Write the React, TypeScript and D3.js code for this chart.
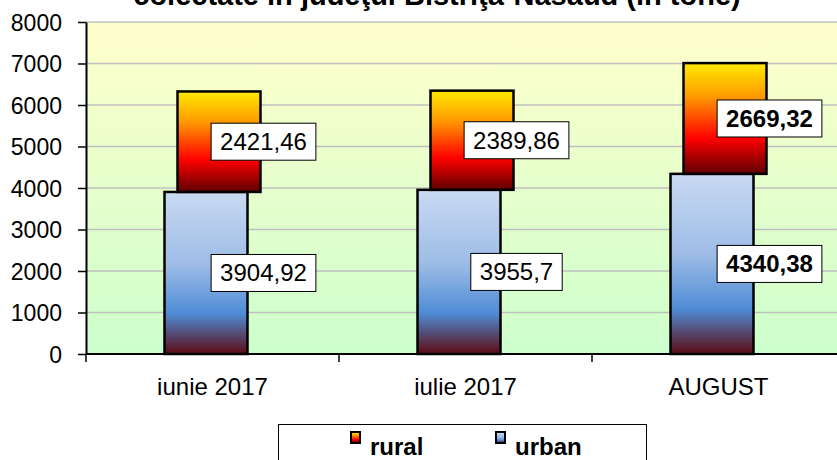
import React, { useEffect, useRef } from 'react';
import * as d3 from 'd3';

const title = 'colectate în judeţul Bistriţa-Năsăud (în tone)';
const categories = ['iunie 2017', 'iulie 2017', 'AUGUST'];
const urban = [3904.92, 3955.7, 4340.38];
const rural = [2421.46, 2389.86, 2669.32];
const urbanLabels = ['3904,92', '3955,7', '4340,38'];
const ruralLabels = ['2421,46', '2389,86', '2669,32'];
const boldLabel = [false, false, true];
const yTicks = [0, 1000, 2000, 3000, 4000, 5000, 6000, 7000, 8000];

const FONT = "'Liberation Sans', Arial, sans-serif";

export default function App() {
  const ref = useRef<HTMLDivElement>(null);

  useEffect(() => {
    const root = d3.select(ref.current);
    root.select('svg').remove();

    const width = 837;
    const height = 460;
    const marginLeft = 86;
    const marginTop = 22;
    const plotBottom = 354;
    const plotRight = 845;

    const svg = root
      .append('svg')
      .attr('width', width)
      .attr('height', height)
      .style('display', 'block')
      .style('font-family', FONT);

    const defs = svg.append('defs');
    const bg = defs.append('linearGradient').attr('id', 'bg').attr('x1', 0).attr('y1', 0).attr('x2', 0).attr('y2', 1);
    bg.append('stop').attr('offset', 0).attr('stop-color', '#FFFFCC');
    bg.append('stop').attr('offset', 1).attr('stop-color', '#CCFFCC');

    const gr = defs.append('linearGradient').attr('id', 'gRural').attr('x1', 0).attr('y1', 0).attr('x2', 0).attr('y2', 1);
    [
      [0, '#FFEA00'],
      [0.3, '#FF9A00'],
      [0.68, '#FF0000'],
      [1, '#5E0000'],
    ].forEach(([o, c]) => gr.append('stop').attr('offset', o).attr('stop-color', c));

    const gu = defs.append('linearGradient').attr('id', 'gUrban').attr('x1', 0).attr('y1', 0).attr('x2', 0).attr('y2', 1);
    [
      [0, '#C9DAF2'],
      [0.45, '#9DBCE6'],
      [0.75, '#4F8CD6'],
      [1, '#5C0A12'],
    ].forEach(([o, c]) => gu.append('stop').attr('offset', o).attr('stop-color', c));

    const x = d3.scaleBand().domain(categories).range([marginLeft, plotRight]).padding(0);
    const y = d3.scaleLinear().domain([0, 8000]).range([plotBottom, marginTop]);

    // plot background
    svg
      .append('rect')
      .attr('x', marginLeft)
      .attr('y', marginTop)
      .attr('width', plotRight - marginLeft)
      .attr('height', plotBottom - marginTop)
      .attr('fill', 'url(#bg)');

    // gridlines
    svg
      .append('g')
      .selectAll('line')
      .data(yTicks.slice(1))
      .join('line')
      .attr('x1', marginLeft)
      .attr('x2', plotRight)
      .attr('y1', (d) => y(d))
      .attr('y2', (d) => y(d))
      .attr('stroke', '#C0C0C0')
      .attr('stroke-width', 1.5);

    // y axis
    const yAxis = d3
      .axisLeft(y)
      .tickValues(yTicks)
      .tickFormat(d3.format('d'))
      .tickSize(8)
      .tickSizeOuter(0)
      .tickPadding(16);
    svg
      .append('g')
      .attr('transform', `translate(${marginLeft},0)`)
      .call(yAxis)
      .call((g) => g.select('.domain').attr('stroke', '#000').attr('stroke-width', 2))
      .call((g) => g.selectAll('.tick line').attr('stroke-width', 1.5))
      .call((g) =>
        g.selectAll('.tick text').attr('font-size', 23).attr('font-family', FONT).attr('fill', '#000').attr('dy', '0.35em')
      );

    // bars
    const bw = 83;
    const bars = svg.append('g');
    categories.forEach((c, i) => {
      const cx = x(c)! + x.bandwidth() / 2;
      bars
        .append('rect')
        .attr('x', cx - 48)
        .attr('y', y(urban[i]))
        .attr('width', bw)
        .attr('height', y(0) - y(urban[i]))
        .attr('fill', 'url(#gUrban)')
        .attr('stroke', '#000')
        .attr('stroke-width', 2.5);
      bars
        .append('rect')
        .attr('x', cx - 35)
        .attr('y', y(urban[i] + rural[i]))
        .attr('width', bw)
        .attr('height', y(urban[i]) - y(urban[i] + rural[i]))
        .attr('fill', 'url(#gRural)')
        .attr('stroke', '#000')
        .attr('stroke-width', 2.5);
    });

    // x axis
    svg
      .append('line')
      .attr('x1', marginLeft)
      .attr('x2', plotRight)
      .attr('y1', plotBottom)
      .attr('y2', plotBottom)
      .attr('stroke', '#000')
      .attr('stroke-width', 2);
    svg
      .append('g')
      .selectAll('line')
      .data(categories)
      .join('line')
      .attr('x1', (d) => x(d)!)
      .attr('x2', (d) => x(d)!)
      .attr('y1', plotBottom)
      .attr('y2', plotBottom + 8)
      .attr('stroke', '#000')
      .attr('stroke-width', 1.5);
    svg
      .append('g')
      .selectAll('text')
      .data(categories)
      .join('text')
      .attr('x', (d) => x(d)! + x.bandwidth() / 2)
      .attr('y', 395)
      .attr('text-anchor', 'middle')
      .attr('font-size', 24)
      .text((d) => d);

    // value labels
    const drawLabel = (cx: number, cy: number, text: string, bold: boolean) => {
      const g = svg.append('g');
      const t = g
        .append('text')
        .attr('x', cx)
        .attr('y', cy)
        .attr('dy', '0.35em')
        .attr('text-anchor', 'middle')
        .attr('font-size', 24)
        .attr('font-weight', bold ? 'bold' : 'normal')
        .text(text);
      const w = (t.node() as SVGTextElement).getComputedTextLength() + 18;
      g.insert('rect', 'text')
        .attr('x', cx - w / 2)
        .attr('y', cy - 18.5)
        .attr('width', w)
        .attr('height', 37)
        .attr('fill', '#fff')
        .attr('stroke', '#000')
        .attr('stroke-width', 1);
    };
    categories.forEach((c, i) => {
      const cx = x(c)! + x.bandwidth() / 2 + 51;
      drawLabel(cx, y(urban[i] + rural[i] / 2), ruralLabels[i], boldLabel[i]);
      drawLabel(cx, y(urban[i] / 2), urbanLabels[i], boldLabel[i]);
    });

    // title (partly above the top edge, as in the source image)
    svg
      .append('text')
      .attr('x', 437)
      .attr('y', 5)
      .attr('text-anchor', 'middle')
      .attr('font-size', 29)
      .attr('font-weight', 'bold')
      .text(title);

    // legend
    const lg = svg.append('g');
    lg.append('rect')
      .attr('x', 278.5)
      .attr('y', 424.5)
      .attr('width', 368)
      .attr('height', 60)
      .attr('fill', '#fff')
      .attr('stroke', '#000')
      .attr('stroke-width', 1);
    const items = [
      { name: 'rural', fill: 'url(#gRural)', x: 351 },
      { name: 'urban', fill: 'url(#gUrban)', x: 496 },
    ];
    items.forEach((it) => {
      lg.append('rect')
        .attr('x', it.x)
        .attr('y', 432)
        .attr('width', 9)
        .attr('height', 11)
        .attr('fill', it.fill)
        .attr('stroke', '#000')
        .attr('stroke-width', 2);
      lg.append('text')
        .attr('x', it.x + 19)
        .attr('y', 455)
        .attr('font-size', 24)
        .attr('font-weight', 'bold')
        .text(it.name);
    });
  }, []);

  return <div ref={ref} style={{ position: 'absolute', left: 0, top: 0 }}></div>;
}
